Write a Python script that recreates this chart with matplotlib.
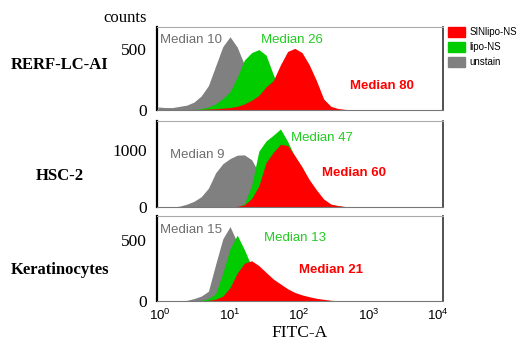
import matplotlib as mpl
mpl.use('Agg')
from matplotlib import pyplot as plt
from matplotlib.patches import Patch

plt.rcParams['font.family'] = 'Liberation Serif'

# FITC-A bin centres (shared by all histograms)
fitc = [0.936, 1.188, 1.508, 1.914, 2.43, 3.084, 3.915, 4.97, 6.31, 8.01,
        10.17, 12.91, 16.39, 20.8, 26.4, 33.5, 42.6, 54.0, 68.6, 87.0,
        110.5, 140.3, 178.0, 226.0, 286.9, 364.1, 462.2, 586.7, 744.7, 945.2, 1200]

samples = ['RERF-LC-AI', 'HSC-2', 'Keratinocytes']
series = ['unstain', 'lipo-NS', 'SINlipo-NS']

# counts per bin
rerf_unstain = [25, 20, 20, 30, 40, 65, 115, 200, 360, 520, 600, 515, 370, 150, 50, 20, 10, 5,
                0, 0, 0, 0, 0, 0, 0, 0, 0, 0, 0, 0, 0]
rerf_lipo = [0, 0, 0, 0, 2, 5, 10, 25, 50, 95, 150, 270, 410, 470, 495, 450, 290, 150, 70, 30,
             10, 3, 0, 0, 0, 0, 0, 0, 0, 0, 0]
rerf_sin = [0, 0, 0, 0, 0, 3, 5, 8, 10, 15, 20, 30, 50, 80, 120, 190, 240, 370, 480, 505,
            470, 370, 240, 90, 30, 12, 5, 2, 0, 0, 0]

hsc_unstain = [0, 0, 0, 15, 50, 100, 180, 330, 600, 760, 850, 910, 915, 830, 600, 350, 150, 60,
               20, 5, 0, 0, 0, 0, 0, 0, 0, 0, 0, 0, 0]
hsc_lipo = [0, 0, 0, 0, 0, 0, 0, 0, 0, 0, 0, 0, 60, 380, 980, 1160, 1260, 1370, 1150, 880,
            700, 450, 250, 120, 50, 20, 5, 0, 0, 0, 0]
hsc_sin = [0, 0, 0, 0, 0, 0, 0, 0, 0, 0, 0, 10, 40, 150, 370, 780, 960, 1100, 1080, 900,
           700, 480, 300, 140, 50, 25, 8, 2, 0, 0, 0]

kera_unstain = [0, 0, 2, 3, 5, 20, 40, 80, 300, 510, 610, 480, 300, 150, 60, 20, 5, 0,
                0, 0, 0, 0, 0, 0, 0, 0, 0, 0, 0, 0, 0]
kera_lipo = [0, 0, 0, 0, 0, 0, 5, 20, 60, 230, 430, 540, 420, 280, 200, 120, 60, 30, 10, 3,
             0, 0, 0, 0, 0, 0, 0, 0, 0, 0, 0]
kera_sin = [0, 0, 0, 0, 0, 0, 0, 5, 15, 40, 110, 230, 310, 330, 290, 235, 180, 140, 100, 70,
            50, 35, 22, 14, 6, 2, 0, 0, 0, 0, 0]

medians = [[10, 26, 80], [9, 47, 60], [15, 13, 21]]
ytick_vals = [[0, 500], [0, 1000], [0, 500]]
ymax = [680, 1510, 697]
xticks = [1, 10, 100, 1000, 10000]

hists = [[rerf_unstain, rerf_lipo, rerf_sin],
         [hsc_unstain, hsc_lipo, hsc_sin],
         [kera_unstain, kera_lipo, kera_sin]]

fill_cols = ['#808080', '#00cc00', '#ff0000']
text_cols = ['#6e6e6e', '#22cc22', '#ff0000']

W, H = 518, 340
# axes boxes in pixels: (top, bottom)
boxes = [(27, 110), (121, 207), (216, 301)]
ax_left, ax_right = 157, 443
# text anchors (x px, baseline px) for each median label
med_pos = [[(160, 43), (261, 43), (350, 89)],
           [(170, 158), (291, 141), (322, 176)],
           [(160, 233), (264, 241), (299, 273)]]
label_y = [65, 176, 270]

fig = plt.figure(figsize=(W / 100, H / 100), dpi=100)

for i in range(3):
    top, bot = boxes[i]
    ax = fig.add_axes([ax_left / W, 1 - bot / H, (ax_right - ax_left) / W, (bot - top) / H])
    for j in range(3):
        ax.fill_between(fitc, 0, hists[i][j], color=fill_cols[j], lw=0)
    ax.set_xscale('log')
    ax.set_xlim(10 ** -0.043, 10 ** 4.07)
    ax.set_ylim(0, ymax[i])
    ax.set_yticks(ytick_vals[i])
    ax.set_yticklabels([str(v) for v in ytick_vals[i]], fontsize=12.5)
    ax.set_xticks(xticks)
    ax.minorticks_off()
    ax.tick_params(length=0, axis='y', pad=7)
    ax.tick_params(length=0, axis='x', pad=5)
    if i == 2:
        ax.set_xticklabels([r'$\mathregular{10^{%d}}$' % k for k in range(5)],
                           fontsize=9.5, family='Liberation Sans')
        ax.set_xlabel('FITC-A', fontsize=12.5, labelpad=1)
    else:
        ax.set_xticklabels([])
    ax.spines['left'].set_color('black')
    ax.spines['left'].set_linewidth(1.6)
    ax.spines['right'].set_color('#333333')
    ax.spines['right'].set_linewidth(1.2)
    ax.spines['top'].set_color('#aaaaaa')
    ax.spines['bottom'].set_color('#777777')
    for j in range(3):
        px, py = med_pos[i][j]
        ax.text((px - ax_left) / (ax_right - ax_left), (bot - py) / (bot - top),
                'Median %d' % medians[i][j], transform=ax.transAxes,
                color=text_cols[j], fontsize=9.5, family='Liberation Sans',
                fontweight='bold' if j == 2 else 'normal', va='baseline', ha='left')
    fig.text(60 / W, 1 - label_y[i] / H, samples[i], fontsize=12, fontweight='bold',
             ha='center', va='center')

fig.text(125 / W, 1 - 18 / H, 'counts', fontsize=12, ha='center', va='center')

handles = [Patch(color=fill_cols[j]) for j in [2, 1, 0]]
fig.legend(handles, [series[j] for j in [2, 1, 0]], loc='upper left',
           bbox_to_anchor=(448 / W, 1 - 27 / H), frameon=False,
           prop={'family': 'Liberation Sans', 'size': 7},
           handlelength=1.75, handleheight=1.15, labelspacing=0.5,
           handletextpad=0.5, borderpad=0, borderaxespad=0)

fig.savefig('out.png', dpi=100)
plt.close()
